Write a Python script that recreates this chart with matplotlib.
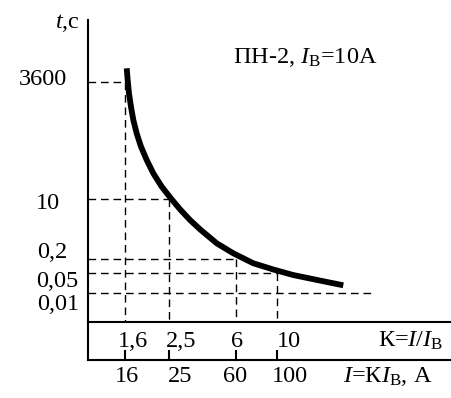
import numpy as np
import matplotlib
matplotlib.use("Agg")
import matplotlib.pyplot as plt

plt.rcParams["font.family"] = ["Liberation Serif", "DejaVu Serif"]
plt.rcParams["mathtext.fontset"] = "custom"
plt.rcParams["mathtext.rm"] = "Liberation Serif"
plt.rcParams["mathtext.it"] = "Liberation Serif:italic"

# fuse rating, A
IB = 10

# time-current curve of the fuse
curve_k = [1.628, 1.644, 1.666, 1.700, 1.741, 1.801, 1.882, 1.994, 2.132, 2.322,
           2.566, 2.884, 3.283, 3.738, 4.641, 5.757, 7.418, 9.546, 12.24, 18.79, 23.07]
curve_t = [7170, 3980, 2040, 1040, 532, 272, 139, 71.1, 36.4, 18.6,
           10.25, 5.11, 2.543, 1.387, 0.557, 0.290, 0.131, 0.0707, 0.0426, 0.0242, 0.0186]

# marked points on the curve
mark_k = [1.6, 2.5, 6, 10]
mark_t = [3600, 10, 0.2, 0.05]
k_labels = ["1,6", "2,5", "6", "10"]
i_ticks = [16, 25, 60, 100]
i_labels = ["16", "25", "60", "100"]
t_ticks = [3600, 10, 0.2, 0.05, 0.01]
t_labels = ["3600", "10", "0,2", "0,05", "0,01"]
low_line_t = 0.01
low_line_k_end = 34

# schematic (non-uniform) axes: where the tick values sit on the drawing, px
W, H = 452, 398
k_anchor_px = [125, 169, 236.5, 277]
t_anchor_px = [293, 273, 259, 199, 82]  # for t = 0.01 ... 3600


def piecewise(xs, ys):
    xs = np.asarray(xs, float)
    ys = np.asarray(ys, float)

    def f(v):
        v = np.asarray(v, float)
        out = np.interp(v, xs, ys)
        lo = ys[0] + (v - xs[0]) * (ys[1] - ys[0]) / (xs[1] - xs[0])
        hi = ys[-1] + (v - xs[-1]) * (ys[-1] - ys[-2]) / (xs[-1] - xs[-2])
        return np.where(v < xs[0], lo, np.where(v > xs[-1], hi, out))
    return f


k_log = np.log10(mark_k)
k_to_px = piecewise(k_log, k_anchor_px)
px_to_klog = piecewise(k_anchor_px, k_log)
t_log = np.log10(sorted(t_ticks))
t_to_px = piecewise(t_log, -np.array(t_anchor_px))
px_to_tlog = piecewise(-np.array(t_anchor_px), t_log)


def kf(k):
    return k_to_px(np.log10(np.clip(k, 1e-9, None)))


def ki(p):
    return 10 ** px_to_klog(p)


def tf(t):
    return t_to_px(np.log10(np.clip(t, 1e-12, None)))


def ti(p):
    return 10 ** px_to_tlog(p)


def box(x0, y0, x1, y1):
    return [x0 / W, 1 - y1 / H, (x1 - x0) / W, (y1 - y0) / H]


fig = plt.figure(figsize=(W / 100, H / 100), dpi=100)
ax = fig.add_axes(box(88, 20, 450, 322))
ax2 = fig.add_axes(box(88, 322, 450, 360))

ax.set_xscale("function", functions=(kf, ki))
ax.set_yscale("function", functions=(tf, ti))
ax.set_xlim(ki(88), ki(450))
ax.set_ylim(ti(-322), ti(-20))

ax2.set_xscale("function", functions=(lambda i: kf(np.asarray(i) / IB),
                                      lambda p: ki(p) * IB))
ax2.set_xlim(ki(88) * IB, ki(450) * IB)
ax2.set_ylim(0, 1)

for a in (ax, ax2):
    for s in ("top", "right"):
        a.spines[s].set_visible(False)
    for s in ("left", "bottom"):
        a.spines[s].set_linewidth(1.5)
    a.set_yticks([])
    a.patch.set_visible(False)
ax.set_xticks([])
ax2.set_xticks(i_ticks)
ax2.set_xticklabels([])
ax2.tick_params(axis="x", direction="in", length=7.2, width=1.5)

# dashed guides
dash = dict(color="black", lw=1.0, linestyle=(0, (5.5, 3.5)))
x0 = ax.get_xlim()[0]
y0 = ax.get_ylim()[0]
for k, t in zip(mark_k, mark_t):
    ax.plot([x0, k], [t, t], **dash)
    ax.plot([k, k], [t, y0], **dash)
ax.plot([x0, low_line_k_end], [low_line_t, low_line_t], **dash)

# curve
ax.plot(curve_k, curve_t, color="black", lw=4.2,
        solid_capstyle="butt", solid_joinstyle="round")

fs = 17.5
# t labels (hand placed as on the drawing)
t_off = [(-21, -3), (-28, -10), (-21, 1), (-10, -14), (-9, -17)]
for t, lab, (dx, dy) in zip(t_ticks, t_labels, t_off):
    ax.annotate(lab, xy=(0, t), xycoords=ax.get_yaxis_transform(),
                xytext=(dx, dy), textcoords="offset pixels",
                ha="right", va="baseline", fontsize=fs)

k_off = [7.5, 12.5, 0.5, 11.5]
for k, lab, dx in zip(mark_k, k_labels, k_off):
    ax.annotate(lab, xy=(k, 0), xycoords=ax.get_xaxis_transform(),
                xytext=(dx, -25), textcoords="offset pixels",
                ha="center", va="baseline", fontsize=fs)

i_off = [2, 11, -1.5, 12.5]
for i, lab, dx in zip(i_ticks, i_labels, i_off):
    ax2.annotate(lab, xy=(i, 0), xycoords=ax2.get_xaxis_transform(),
                 xytext=(dx, -22), textcoords="offset pixels",
                 ha="center", va="baseline", fontsize=fs)

ax.annotate(r"$\mathit{t}$,с", xy=(0, 1), xycoords="axes fraction",
            xytext=(-8, -8), textcoords="offset pixels",
            ha="right", va="baseline", fontsize=fs)

fig.text(233 / W, 1 - 63 / H, r"ПН-2, $\mathit{I}_{\mathrm{В}}$=10А",
         ha="left", va="baseline", fontsize=fs)
fig.text(443 / W, 1 - 347 / H, r"К=$\mathit{I}/\mathit{I}_{\mathrm{В}}$",
         ha="right", va="baseline", fontsize=fs)
fig.text(432 / W, 1 - 382 / H, r"$\mathit{I}$=К$\mathit{I}_{\mathrm{В}}$, А",
         ha="right", va="baseline", fontsize=fs)

fig.savefig("out.png", dpi=100)
